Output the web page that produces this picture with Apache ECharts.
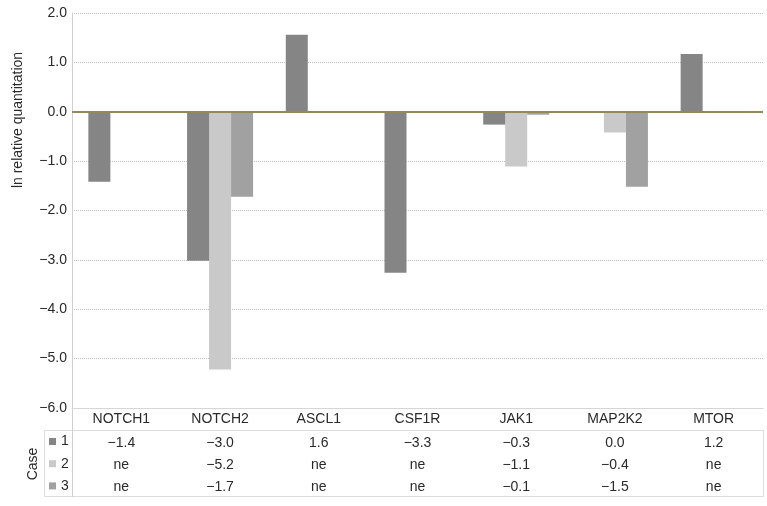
<!DOCTYPE html>
<html><head><meta charset="utf-8">
<script src="https://cdn.jsdelivr.net/npm/echarts@6/dist/echarts.min.js"></script>
<style>html,body{margin:0;padding:0;background:#fff}#c{width:767px;height:506px}</style>
</head><body><div id="c"></div>
<script>
// ---- data ----
const categories = ['NOTCH1','NOTCH2','ASCL1','CSF1R','JAK1','MAP2K2','MTOR'];
const caseNames = ['1','2','3'];
const case1 = [-1.42, -3.02, 1.56, -3.26, -0.26, 0.0, 1.17];
const case2 = [null, -5.22, null, null, -1.11, -0.42, null];
const case3 = [null, -1.72, null, null, -0.06, -1.52, null];
const yTicks = { min: -6, max: 2, interval: 1 };
const caseColors = ['#858585', '#c9c9c9', '#a1a1a1'];

const FONT = '"Liberation Sans", Arial, Helvetica, sans-serif';
const FS = 14;
const TXT = '#2a2a2a';
const fmt = v => {
  if (v === null || v === undefined) return 'ne';
  const s = Math.abs(v).toFixed(1);
  return (v < 0 && s !== '0.0') ? '\u2212' + s : s;
};
const rows = [case1, case2, case3];
const rowOffsets = [24, 46, 68.5];

const chart = echarts.init(document.getElementById('c'), null, {renderer: 'canvas'});

const xAxes = [{
  type: 'category', gridIndex: 0, position: 'bottom', data: categories,
  axisLine: {onZero: false, show: true, lineStyle: {color: '#d6d6d6', width: 1}},
  axisTick: {show: false},
  axisLabel: {margin: 4, fontSize: FS, color: TXT, fontFamily: FONT}
}];
rows.forEach((r, i) => {
  xAxes.push({
    type: 'category', gridIndex: 0, position: 'bottom', offset: rowOffsets[i],
    data: r.map(fmt),
    axisLine: {show: false, onZero: false}, axisTick: {show: false}, splitLine: {show: false},
    axisLabel: {margin: 4, fontSize: FS, color: TXT, fontFamily: FONT, interval: 0}
  });
});

const series = rows.map((r, i) => ({
  name: caseNames[i], type: 'bar', xAxisIndex: 0, data: r,
  barWidth: 22, barGap: '0%',
  itemStyle: {color: caseColors[i]},
  silent: true
}));
series[0].markLine = {
  silent: true, symbol: 'none', label: {show: false},
  lineStyle: {color: '#938a57', width: 2, type: 'solid'},
  data: [{yAxis: 0}]
};
series[0].z = 3;

chart.setOption({
  animation: false,
  textStyle: {fontFamily: FONT},
  grid: {left: 72, right: 4, top: 13, bottom: 98, containLabel: false},
  legend: {
    orient: 'vertical', left: 49, top: 434, padding: 0, itemGap: 7.2,
    itemWidth: 7, itemHeight: 7, icon: 'rect',
    data: caseNames, selectedMode: false,
    textStyle: {fontSize: FS, color: TXT, fontFamily: FONT, lineHeight: 15}
  },
  xAxis: xAxes,
  yAxis: {
    type: 'value', min: yTicks.min, max: yTicks.max, interval: yTicks.interval,
    axisLine: {show: true, lineStyle: {color: '#d0d0d0'}},
    axisTick: {show: false},
    axisLabel: {margin: 5, fontSize: FS, color: TXT, fontFamily: FONT, formatter: v => fmt(v)},
    splitLine: {show: true, lineStyle: {color: '#bdbdbd', type: [1, 1], width: 1}}
  },
  series: series,
  graphic: [
    {type: 'rect', shape: {x: 44.5, y: 430.5, width: 719, height: 66}, style: {fill: 'none', stroke: '#dcdcdc', lineWidth: 1}, silent: true},
    {type: 'line', shape: {x1: 72.5, y1: 408, x2: 72.5, y2: 497}, style: {stroke: '#d0d0d0', lineWidth: 1}, silent: true},
    {type: 'text', x: 18, y: 120, rotation: Math.PI / 2,
      style: {text: 'ln relative quantitation', fill: TXT, font: FS + 'px ' + FONT, textAlign: 'center', textVerticalAlign: 'middle'}},
    {type: 'text', x: 33, y: 464, rotation: Math.PI / 2,
      style: {text: 'Case', fill: TXT, font: FS + 'px ' + FONT, textAlign: 'center', textVerticalAlign: 'middle'}}
  ]
});
</script></body></html>
